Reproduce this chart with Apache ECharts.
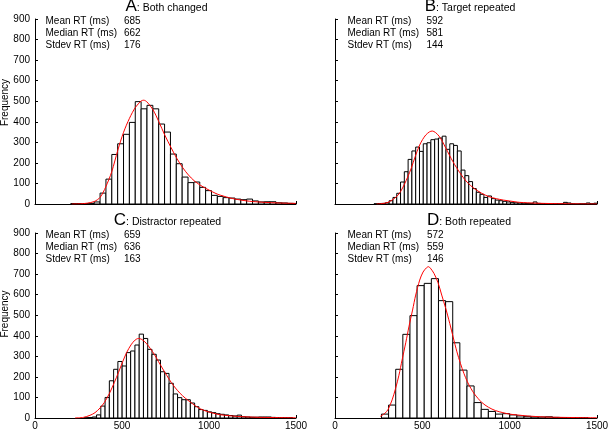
<!DOCTYPE html>
<html><head><meta charset="utf-8">
<script src="https://cdn.jsdelivr.net/npm/echarts@6/dist/echarts.min.js"></script>
<style>html,body{margin:0;padding:0;background:#fff}#c{width:608px;height:430px}</style>
</head><body><div id="c"></div>
<script>
// ---------- data ----------
const panelLetters = ['A', 'B', 'C', 'D'];
const panelTitles = [': Both changed', ': Target repeated', ': Distractor repeated', ': Both repeated'];
const statLabels = ['Mean RT (ms)', 'Median RT (ms)', 'Stdev RT (ms)'];
const statsA = [685, 662, 176];
const statsB = [592, 581, 144];
const statsC = [659, 636, 163];
const statsD = [572, 559, 146];
const xTickValues = [0, 500, 1000, 1500];
const yTickValues = [0, 100, 200, 300, 400, 500, 600, 700, 800, 900];
const yAxisName = 'Frequency';

// histogram bins: first bin edge (ms), bin width (ms), counts
const binStartA = 205.5, binWidthA = 33.7;
const countsA = [2, 2, 2, 3, 10, 53, 121, 241, 293, 339, 397, 498, 463, 480, 463, 389, 350, 243, 196, 131,
  104, 107, 81, 65, 42, 37, 31, 29, 24, 21, 24, 15, 10, 11, 11, 6, 5, 3, 2];
const binStartB = 223.3, binWidthB = 21.7;
const countsB = [1, 2, 3, 6, 16, 32, 52, 107, 157, 217, 258, 277, 256, 293, 298, 313, 316, 321, 330, 266,
  293, 285, 258, 165, 138, 109, 75, 57, 47, 32, 39, 26, 19, 16, 13, 10, 8, 6, 5,
  4, 3, 3, 10, 3, 2, 2, 1, 1, 1, 1, 8, 5, 1, 0, 1, 1, 5, 1, 4];
const binStartC = 280.3, binWidthC = 24.5;
const countsC = [1, 2, 5, 15, 58, 100, 181, 237, 275, 253, 318, 326, 355, 408, 387, 334, 310, 282, 225, 217,
  169, 117, 99, 89, 89, 73, 55, 41, 37, 30, 26, 21, 18, 15, 12, 10, 14, 6, 5, 4, 4, 5, 5, 5, 3, 2, 1, 1, 1];
const binStartD = 266, binWidthD = 40.8;
const countsD = [19, 63, 237, 407, 498, 644, 655, 678, 571, 566, 366, 233, 156, 75, 42, 32, 19, 21, 15, 10,
  8, 5, 5, 6, 3, 2, 1, 1, 1];

// fitted curves: [ms, frequency]
const curveA = [[211, 0], [260, 1], [300, 4], [340, 12], [374, 32], [407, 84], [441, 157], [476, 262], [509, 349],
  [543, 417], [577, 470], [610, 501], [625, 505], [644, 496], [679, 457], [712, 400], [746, 335], [781, 276],
  [815, 222], [848, 178], [882, 141], [915, 113], [949, 92], [984, 75], [1018, 60], [1051, 47], [1085, 38],
  [1118, 30], [1150, 24], [1185, 19], [1218, 15], [1250, 12], [1285, 10], [1320, 8], [1400, 5], [1500, 3]];
const curveB = [[238, 0], [270, 2], [304, 8], [333, 23], [356, 39], [375, 60], [398, 97], [417, 133], [436, 173],
  [459, 230], [482, 282], [501, 313], [520, 336], [541, 351], [557, 355], [575, 348], [596, 330], [615, 304],
  [635, 271], [655, 238], [675, 206], [695, 178], [715, 152], [735, 128], [755, 107], [775, 91], [798, 75],
  [840, 52], [881, 36], [923, 26], [965, 19], [1030, 11], [1057, 8], [1150, 4], [1250, 2], [1350, 1], [1500, 0]];
const curveC = [[230, 0], [278, 3], [316, 13], [345, 26], [374, 49], [399, 76], [428, 120], [456, 173], [480, 222],
  [504, 274], [527, 319], [552, 356], [575, 379], [595, 387], [614, 382], [639, 364], [662, 339], [687, 308],
  [710, 274], [735, 238], [758, 206], [783, 173], [807, 146], [834, 120], [863, 97], [892, 78], [921, 60],
  [949, 45], [988, 32], [1026, 23], [1064, 16], [1130, 10], [1200, 6], [1300, 3], [1400, 2], [1500, 1]];
const curveD = [[260, 8], [286, 23], [304, 42], [327, 88], [347, 144], [366, 208], [384, 282], [405, 366],
  [424, 447], [444, 525], [462, 598], [485, 671], [504, 710], [524, 731], [535, 736], [546, 729], [567, 703],
  [590, 658], [611, 598], [634, 533], [657, 460], [676, 395], [698, 322], [718, 266], [738, 217], [758, 176],
  [778, 144], [798, 117], [840, 76], [879, 52], [919, 36], [961, 26], [999, 19], [1041, 15], [1100, 10],
  [1200, 5], [1300, 3], [1400, 2], [1500, 1]];

// ---------- chart ----------
const FONT = 'Liberation Sans, Arial, Helvetica, sans-serif';
const hist = [
  [binStartA, binWidthA, countsA], [binStartB, binWidthB, countsB],
  [binStartC, binWidthC, countsC], [binStartD, binWidthD, countsD]
];
const curves = [curveA, curveB, curveC, curveD];
const stats = [statsA, statsB, statsC, statsD];

const grids = [
  { left: 35, top: 19, width: 261, height: 185 },
  { left: 335, top: 19, width: 262, height: 185 },
  { left: 35, top: 233, width: 261, height: 185 },
  { left: 335, top: 233, width: 262, height: 185 }
];
const titlePos = [[166.5, 14.5], [470, 14.5], [167.5, 228.5], [469, 228.5]];
const statPos = [[45.5, 124, 21.7], [347.5, 426.5, 21.7], [45.5, 124, 235.5], [347.5, 427, 235.5]];

const chart = echarts.init(document.getElementById('c'), null, { renderer: 'canvas' });

const xAxis = [], yAxis = [], series = [], graphic = [];
grids.forEach((g, i) => {
  g.containLabel = false;
  g.outerBoundsMode = 'none';
  xAxis.push({
    gridIndex: i, type: 'value',
    min: xTickValues[0], max: xTickValues[xTickValues.length - 1],
    interval: xTickValues[1] - xTickValues[0],
    axisLine: { show: true, lineStyle: { color: '#000', width: 1 } },
    axisTick: { show: true, inside: true, length: 3, lineStyle: { color: '#000' } },
    axisLabel: { show: i >= 2, color: '#000', fontSize: 10, fontFamily: FONT, margin: 3,
      formatter: v => String(v) },
    splitLine: { show: false }
  });
  yAxis.push({
    gridIndex: i, type: 'value',
    min: yTickValues[0], max: yTickValues[yTickValues.length - 1],
    interval: yTickValues[1] - yTickValues[0],
    axisLine: { show: true, lineStyle: { color: '#000', width: 1 } },
    axisTick: { show: true, inside: true, length: 3, lineStyle: { color: '#000' } },
    axisLabel: { show: i % 2 === 0, color: '#000', fontSize: 10, fontFamily: FONT, margin: 5,
      formatter: v => String(v) },
    splitLine: { show: false }
  });
  const [start, width, counts] = hist[i];
  const data = counts.map((c, k) => [start + k * width, start + (k + 1) * width, c]);
  series.push({
    type: 'custom', xAxisIndex: i, yAxisIndex: i, clip: true, silent: true, z: 2,
    encode: { x: [0, 1], y: 2 },
    data: data,
    renderItem: function (params, api) {
      const p0 = api.coord([api.value(0), 0]);
      const p1 = api.coord([api.value(1), api.value(2)]);
      return {
        type: 'rect',
        shape: { x: p0[0], y: p1[1], width: p1[0] - p0[0], height: p0[1] - p1[1] },
        style: { fill: '#fff', stroke: '#000', lineWidth: 1 }
      };
    }
  });
  series.push({
    type: 'line', xAxisIndex: i, yAxisIndex: i, data: curves[i], showSymbol: false, symbol: 'none',
    smooth: 0.3, silent: true, z: 3,
    lineStyle: { color: '#ff0000', width: 1 }
  });
  // title
  graphic.push({
    type: 'text', x: titlePos[i][0], y: titlePos[i][1], silent: true,
    style: {
      text: '{b|' + panelLetters[i] + '}{s|' + panelTitles[i] + '}',
      align: 'center', verticalAlign: 'bottom',
      rich: {
        b: { fontSize: 17, fontFamily: FONT, fill: '#000', verticalAlign: 'bottom' },
        s: { fontSize: 10.5, fontFamily: FONT, fill: '#000', verticalAlign: 'bottom', padding: [0, 0, 1, 0] }
      }
    }
  });
  // stats
  const sp = statPos[i];
  statLabels.forEach((lab, r) => {
    graphic.push({
      type: 'text', x: sp[0], y: sp[2] + r * 12, silent: true,
      style: { text: lab, fontSize: 10, fontFamily: FONT, fill: '#000', align: 'left', verticalAlign: 'middle' }
    });
    graphic.push({
      type: 'text', x: sp[1], y: sp[2] + r * 12, silent: true,
      style: { text: String(stats[i][r]), fontSize: 10, fontFamily: FONT, fill: '#000', align: 'left', verticalAlign: 'middle' }
    });
  });
});
// y-axis names
[[5, 102.5], [5, 314]].forEach(p => {
  graphic.push({
    type: 'text', x: p[0], y: p[1], rotation: Math.PI / 2, silent: true,
    style: { text: yAxisName, fontSize: 10, fontFamily: FONT, fill: '#000', align: 'center', verticalAlign: 'middle' }
  });
});

chart.setOption({
  animation: false,
  backgroundColor: '#fff',
  grid: grids,
  xAxis: xAxis,
  yAxis: yAxis,
  series: series,
  graphic: graphic
});
</script>
</body></html>
